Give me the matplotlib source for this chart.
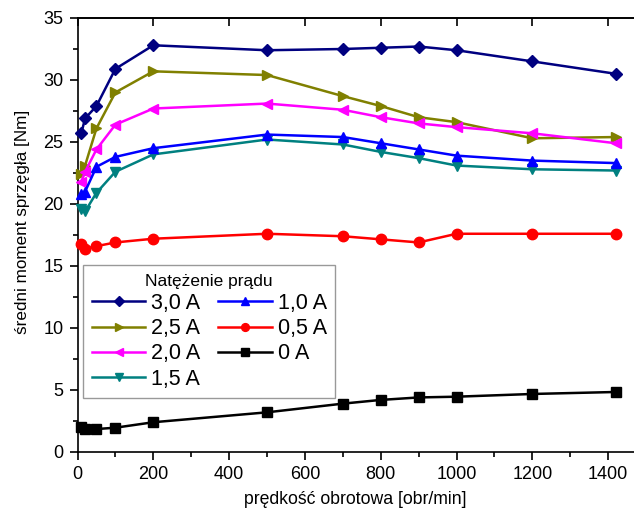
import matplotlib
matplotlib.use("Agg")
import matplotlib.pyplot as plt
from matplotlib.ticker import MultipleLocator

plt.rcParams['font.family'] = ['Liberation Sans', 'DejaVu Sans']

speed = [10, 20, 50, 100, 200, 500, 700, 800, 900, 1000, 1200, 1420]

i_30 = [25.7, 26.9, 27.9, 30.9, 32.8, 32.4, 32.5, 32.6, 32.7, 32.4, 31.5, 30.5]
i_25 = [22.4, 23.1, 26.1, 29.0, 30.7, 30.4, 28.7, 27.9, 27.0, 26.6, 25.3, 25.4]
i_20 = [21.8, 22.6, 24.4, 26.4, 27.7, 28.1, 27.6, 27.0, 26.5, 26.2, 25.7, 24.9]
i_15 = [19.6, 19.4, 20.9, 22.6, 24.0, 25.2, 24.8, 24.2, 23.7, 23.1, 22.8, 22.7]
i_10 = [20.8, 21.0, 23.0, 23.8, 24.5, 25.6, 25.4, 24.9, 24.4, 23.9, 23.5, 23.3]
i_05 = [16.8, 16.4, 16.6, 16.9, 17.2, 17.6, 17.4, 17.15, 16.9, 17.6, 17.6, 17.6]
i_00 = [2.04, 1.85, 1.85, 1.96, 2.4, 3.2, 3.9, 4.2, 4.4, 4.46, 4.68, 4.84]

labels = ['3,0 A', '2,5 A', '2,0 A', '1,5 A', '1,0 A', '0,5 A', '0 A']
series = [i_30, i_25, i_20, i_15, i_10, i_05, i_00]
colors = ['#000080', '#808000', '#FF00FF', '#008080', '#0000FF', '#FF0000', '#000000']
markers = ['D', '>', '<', 'v', '^', 'o', 's']

fig = plt.figure(figsize=(6.34, 5.17), dpi=100)
ax = fig.add_axes([77.5/634, 65/517, 1 - 77.5/634, 434/517])

handles = []
for ys, lab, c, m in zip(series, labels, colors, markers):
    ms = 7.5
    if m == 'D':
        ms = 6.5
    h, = ax.plot(speed, ys, color=c, marker=m, markersize=ms, linewidth=1.8,
                 label=lab, clip_on=False, zorder=3)
    handles.append(h)

ax.set_xlim(0, 1468)
ax.set_ylim(0, 35)
ax.xaxis.set_major_locator(MultipleLocator(200))
ax.xaxis.set_minor_locator(MultipleLocator(100))
ax.yaxis.set_major_locator(MultipleLocator(5))
ax.yaxis.set_minor_locator(MultipleLocator(2.5))

ax.spines['right'].set_visible(False)
for s in ['left', 'bottom', 'top']:
    ax.spines[s].set_linewidth(1.2)

ax.tick_params(axis='both', which='both', direction='out', labelsize=13, width=1.2, pad=4)
ax.tick_params(axis='both', which='major', length=6)
ax.tick_params(axis='both', which='minor', length=3.5)

# top ticks point inward
secx = ax.secondary_xaxis('top')
secx.xaxis.set_major_locator(MultipleLocator(200))
secx.tick_params(axis='x', which='major', direction='in', length=6, width=1.2, labeltop=False)
secx.xaxis.set_minor_locator(MultipleLocator(100))
secx.tick_params(axis='x', which='minor', length=0)
secx.spines['top'].set_linewidth(1.2)
ax.tick_params(axis='x', which='both', top=False)

ax.set_xlabel('prędkość obrotowa [obr/min]', fontsize=12.7, labelpad=6)
ax.set_ylabel('średni moment sprzęgła [Nm]', fontsize=12.3)
ax.yaxis.set_label_coords(-0.085, 0.53)

leg = ax.legend(handles=handles, ncol=2, title='Natężenie prądu',
                loc='upper left', bbox_to_anchor=(0.010, 0.431), borderaxespad=0,
                fontsize=15.5, title_fontsize=12.5, handlelength=2.5,
                handletextpad=0.25, columnspacing=0.85, labelspacing=0.2,
                markerscale=0.75,
                frameon=True, fancybox=False, edgecolor='#808080',
                borderpad=0.4)
leg.get_frame().set_linewidth(1.0)

fig.savefig('out.png', dpi=100)
